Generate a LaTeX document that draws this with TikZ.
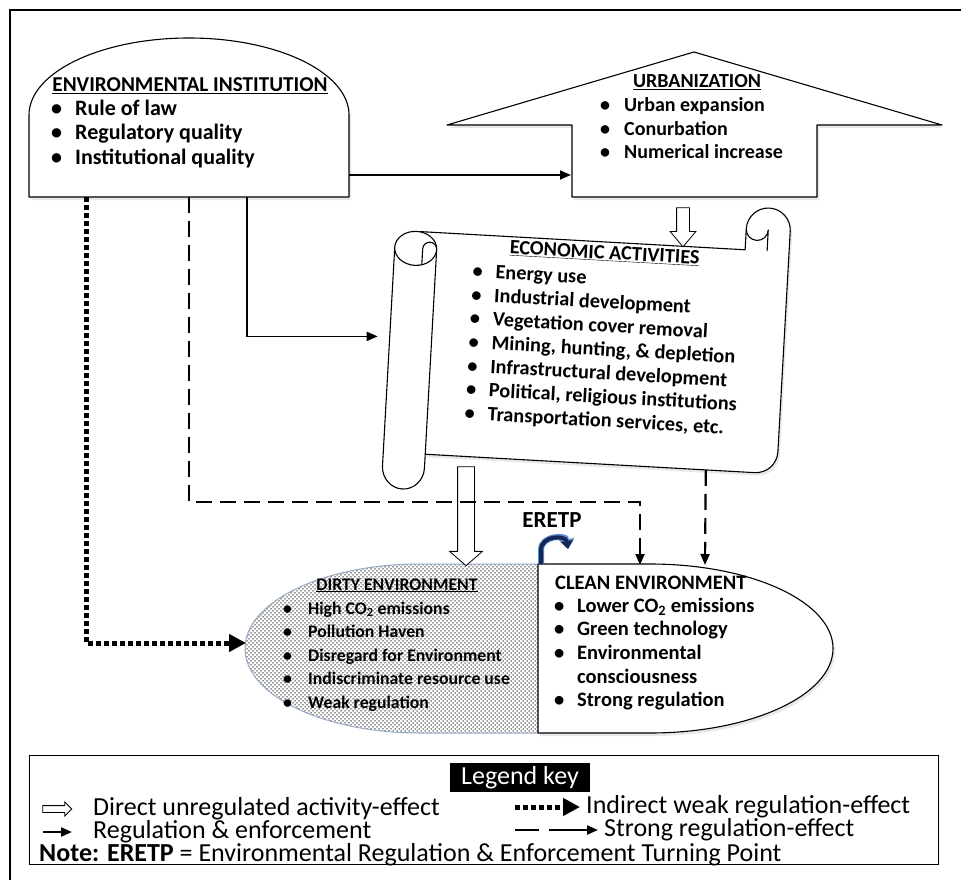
\documentclass[tikz,border=0pt]{standalone}
\usepackage{fontspec}
\setmainfont{Carlito}
\usetikzlibrary{arrows.meta,patterns,shapes.arrows,shadows}

\newcommand{\eifont}{\fontsize{22}{24.5}\selectfont\bfseries}
\newcommand{\eititlefont}{\fontsize{21.2}{24.5}\selectfont\bfseries}
\newcommand{\urbfont}{\fontsize{20}{23.5}\selectfont\bfseries}
\newcommand{\ecofont}{\fontsize{20.3}{23.7}\selectfont\bfseries}
\newcommand{\dirtyfont}{\fontsize{17.7}{23.5}\selectfont\bfseries}
\newcommand{\cleanfont}{\fontsize{20.5}{23.7}\selectfont\bfseries}
\newcommand{\keyfont}{\fontsize{26}{23}\selectfont}

\definecolor{dirtyedge}{RGB}{150,170,200}
\definecolor{eretpnavy}{RGB}{22,40,88}
\definecolor{eretpglow}{RGB}{90,140,210}

\pgfdeclarepatternformonly{dirtydots}{\pgfqpoint{-1pt}{-1pt}}{\pgfqpoint{5pt}{5pt}}{\pgfqpoint{4pt}{4pt}}{%
  \pgfpathcircle{\pgfqpoint{1pt}{1pt}}{0.75pt}
  \pgfpathcircle{\pgfqpoint{3pt}{3pt}}{0.75pt}
  \pgfusepath{fill}}

\tikzset{
  shapeline/.style={line width=1.1pt, line join=round},
  softshadow/.style={drop shadow={opacity=0.18, shadow xshift=2pt, shadow yshift=-3pt}},
  titletext/.style={anchor=base, inner sep=0pt},
  listtext/.style={anchor=north west, inner sep=0pt, align=left},
  regarrow/.style={line width=1.8pt, -{Triangle[length=11pt,width=9pt]}},
  strongarrow/.style={line width=2.2pt, dash pattern=on 16pt off 8pt, -{Triangle[length=11pt,width=9pt]}},
  weakarrow/.style={line width=5pt, dash pattern=on 5pt off 3pt, -{Triangle[length=17pt,width=17pt]}},
  hollowarrow/.style={single arrow, draw, line width=0.8pt, fill=white, inner xsep=0pt,
    single arrow head indent=0pt},
  keytext/.style={anchor=west, inner sep=0pt, font=\keyfont},
}

\begin{document}
\begin{tikzpicture}[x=1pt,y=-1pt]
\useasboundingbox (0,0) rectangle (961,880);

% Outer frame (cut by the page on the right and at the bottom).
\draw[line width=1.2pt] (10,880) -- (10,10) -- (961,10);

% Environmental institution.
\draw[shapeline,fill=white,softshadow] (29,197) -- (29,115)
  arc[start angle=180,end angle=0,x radius=160pt,y radius=77pt] -- (349,197) -- cycle;
\node[titletext,font=\eititlefont] (ei-title) at (190,92) {\underline{ENVIRONMENTAL INSTITUTION}};
\node[listtext,font=\eifont] (ei-list) at (51,98) {%
  \begin{tabular}{@{}p{24pt}@{}l@{}}
  \textbullet & Rule of law\\
  \textbullet & Regulatory quality\\
  \textbullet & Institutional quality
  \end{tabular}};

% Urbanization (house).
\draw[shapeline,fill=white,softshadow] (572,197) -- (572,125) -- (447,125) -- (694,52)
  -- (942,125) -- (817,125) -- (817,197) -- cycle;
\node[titletext,font=\urbfont] (urb-title) at (697,88) {\underline{URBANIZATION}};
\node[listtext,font=\urbfont] (urb-list) at (600,95) {%
  \begin{tabular}{@{}p{24pt}@{}l@{}}
  \textbullet & Urban expansion\\
  \textbullet & Conurbation\\
  \textbullet & Numerical increase
  \end{tabular}};

% Economic activities (scroll).
\begin{scope}[shift={(585,355)}, rotate=-3.2]
  \filldraw[shapeline,fill=white,softshadow] (-154,108) [rounded corners=22pt] -- (198,108)
    [sharp corners] -- (198,-135) arc[start angle=0,end angle=180,radius=22pt]
    -- (154,-114) -- (-172,-114);
  \draw[shapeline] (154,-135) arc[start angle=180,end angle=360,radius=11pt] -- (176,-114);
  \filldraw[shapeline,fill=white] (-196,-97) -- (-196,122)
    arc[start angle=180,end angle=360,x radius=21pt,y radius=22pt] -- (-154,-97);
  \filldraw[shapeline,fill=white] (-175,-97) ellipse[x radius=21pt,y radius=17pt];
  \draw[shapeline] (-168,-81) -- (-168,-97) arc[start angle=180,end angle=0,radius=7pt];
  \node[titletext,transform shape,font=\ecofont] (eco-title) at (14,-97) {\underline{ECONOMIC ACTIVITIES}};
  \node[listtext,transform shape,font=\ecofont] (eco-list) at (-117,-88) {%
    \begin{tabular}{@{}p{23pt}@{}l@{}}
    \textbullet & Energy use\\
    \textbullet & Industrial development\\
    \textbullet & Vegetation cover removal\\
    \textbullet & Mining, hunting, \& depletion\\
    \textbullet & Infrastructural development\\
    \textbullet & Political, religious institutions\\
    \textbullet & Transportation services, etc.
    \end{tabular}};
  \coordinate (econ-west) at (-208,-7);
  \coordinate (econ-south) at (127,108);
\end{scope}

% Dirty environment.
\fill[white] (538,564) -- (420,564)
  arc[start angle=90,end angle=270,x radius=175pt,y radius=84.5pt] -- (538,733) -- cycle;
\fill[pattern=dirtydots,pattern color=black!85] (538,564) -- (420,564)
  arc[start angle=90,end angle=270,x radius=175pt,y radius=84.5pt] -- (538,733) -- cycle;
\draw[line width=1pt,draw=dirtyedge] (538,564) -- (420,564)
  arc[start angle=90,end angle=270,x radius=175pt,y radius=84.5pt] -- (538,733);
\node[titletext,font=\dirtyfont] (dirty-title) at (397,590) {\underline{DIRTY ENVIRONMENT}};
\node[listtext,font=\dirtyfont] (dirty-list) at (283,597.5) {%
  \begin{tabular}{@{}p{25pt}@{}l@{}}
  \textbullet & High CO\textsubscript{2} emissions\\
  \textbullet & Pollution Haven\\
  \textbullet & Disregard for Environment\\
  \textbullet & Indiscriminate resource use\\
  \textbullet & Weak regulation
  \end{tabular}};

% Clean environment.
\draw[shapeline,fill=white,softshadow] (538,564) -- (650,564)
  arc[start angle=90,end angle=-90,x radius=183pt,y radius=84.5pt] -- (538,733) -- cycle;
\node[titletext,anchor=base west,font=\cleanfont] (clean-title) at (555,589) {CLEAN ENVIRONMENT};
\node[listtext,font=\cleanfont] (clean-list) at (554,595.4) {%
  \begin{tabular}{@{}p{23pt}@{}l@{}}
  \textbullet & Lower CO\textsubscript{2} emissions\\
  \textbullet & Green technology\\
  \textbullet & Environmental\\
              & consciousness\\
  \textbullet & Strong regulation
  \end{tabular}};

% Connector ends.
\coordinate (ei-east) at (349,175);
\coordinate (urb-west) at (571,175);
\coordinate (ei-dot) at (86,197);
\coordinate (ei-dash) at (189,197);
\coordinate (ei-solid) at (247,197);
\coordinate (dash-bend) at (640,502);
\coordinate (clean-n1) at (640,565);
\coordinate (clean-n2) at (705,565);
\coordinate (dirty-west) at (246,643);

% Hollow (unregulated) arrows.
\node[hollowarrow,rotate=-90,minimum height=39pt,inner ysep=6pt,
  single arrow head extend=6.5pt,single arrow tip angle=80] (urb-eco) at (683,223.5) {};
\node[hollowarrow,rotate=-90,minimum height=99pt,inner ysep=8pt,
  single arrow head extend=8pt,single arrow tip angle=98] (eco-dirty) at (466,512.5) {};

% Regulation arrows.
\draw[regarrow] (ei-east) -- (urb-west);
\draw[regarrow] (ei-solid) |- (econ-west);
\draw[strongarrow] (ei-dash) |- (dash-bend) -- (clean-n1);
\draw[strongarrow] (econ-south) -- (clean-n2);
\draw[weakarrow] (ei-dot) |- (dirty-west);

% Turning point.
\node[font=\fontsize{23}{26}\selectfont\bfseries] (eretp) at (552,520) {ERETP};
\draw[line width=6pt,eretpglow,-{Triangle[length=10pt,width=15pt]}]
  (541,564) -- (541,550) .. controls (541,535) and (566,535) .. (568,549);
\draw[line width=4pt,eretpnavy,-{Triangle[length=8pt,width=12pt]}]
  (541,564) -- (541,550) .. controls (541,535) and (566,535) .. (568,549);

% Legend.
\draw[line width=0.9pt] (29,755) rectangle (938,864);
\node[fill=black,text=white,font=\keyfont,minimum width=140pt,minimum height=29pt,
  inner sep=0pt] (key-title) at (520,777.5) {Legend key};
\node[hollowarrow,minimum height=29pt,inner ysep=3pt,single arrow head extend=3.5pt,
  single arrow tip angle=90] (key-hollow) at (55.5,809) {};
\node[keytext] (key-direct) at (93,809) {Direct unregulated activity-effect};
\coordinate (key-reg-a) at (43,832);
\coordinate (key-reg-b) at (72,832);
\draw[regarrow,line width=2.2pt] (key-reg-a) -- (key-reg-b);
\node[keytext] (key-reg) at (93,832) {Regulation \& enforcement};
\coordinate (key-weak-a) at (515,807);
\coordinate (key-weak-b) at (580,807);
\draw[weakarrow] (key-weak-a) -- (key-weak-b);
\node[keytext] (key-weak) at (586,807) {Indirect weak regulation-effect};
\coordinate (key-strong-a) at (515,830);
\coordinate (key-strong-b) at (598,830);
\draw[strongarrow,dash pattern=on 24pt off 10pt on 80pt off 0pt] (key-strong-a) -- (key-strong-b);
\node[keytext] (key-strong) at (604,830) {Strong regulation-effect};
\node[keytext] (key-note) at (39,855)
  {\textbf{Note: ERETP} = Environmental Regulation \& Enforcement Turning Point};
\end{tikzpicture}
\end{document}
